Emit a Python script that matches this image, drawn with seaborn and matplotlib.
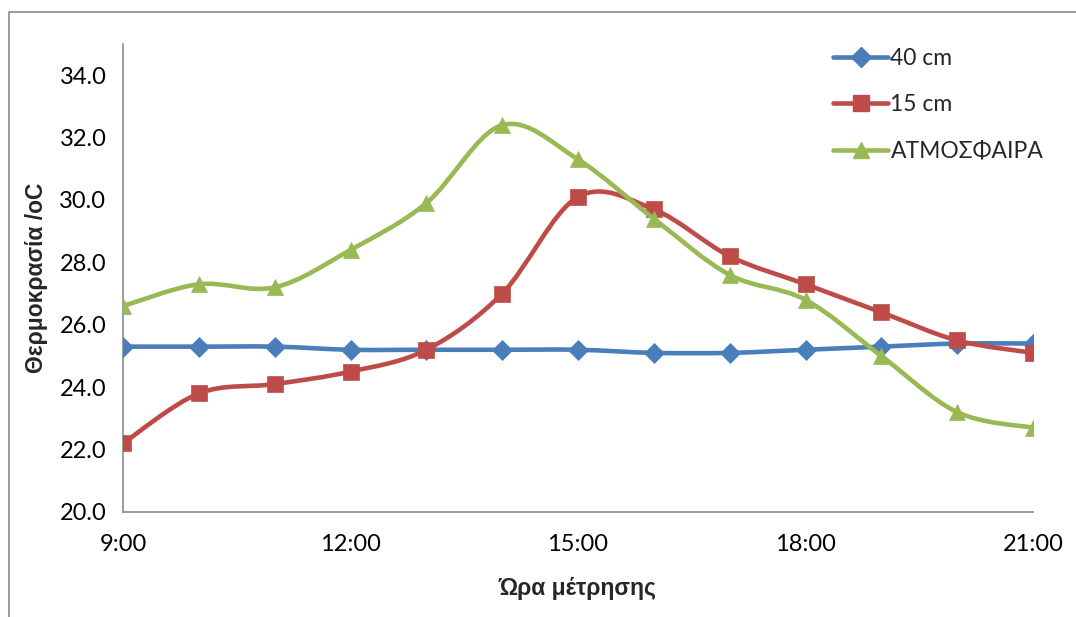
import numpy as np
import pandas as pd
import matplotlib
matplotlib.use("Agg")
import matplotlib.pyplot as plt
import seaborn as sns
from matplotlib.path import Path
from matplotlib.patches import PathPatch, Rectangle
from matplotlib.lines import Line2D

# ---- data ----
hours = [9, 10, 11, 12, 13, 14, 15, 16, 17, 18, 19, 20, 21]
tick_hours = [9, 12, 15, 18, 21]
tick_labels = ["9:00", "12:00", "15:00", "18:00", "21:00"]
s40 = [25.3, 25.3, 25.3, 25.2, 25.2, 25.2, 25.2, 25.1, 25.1, 25.2, 25.3, 25.4, 25.4]
s15 = [22.2, 23.8, 24.1, 24.5, 25.2, 27.0, 30.1, 29.7, 28.2, 27.3, 26.4, 25.5, 25.1]
atm = [26.6, 27.3, 27.2, 28.4, 29.9, 32.4, 31.3, 29.4, 27.6, 26.8, 25.0, 23.2, 22.7]
names = ["40 cm", "15 cm", "ΑΤΜΟΣΦΑΙΡΑ"]
colors = ["#4A7EBB", "#BE4B48", "#98B954"]
markers = ["D", "s", "^"]
msizes = [10, 11, 12]

df = pd.DataFrame({"hour": hours * 3,
                   "temp": s40 + s15 + atm,
                   "series": sum([[n] * len(hours) for n in names], [])})

sns.set_theme(style="white")
plt.rcParams["font.family"] = ["Lato", "DejaVu Sans"]

fig = plt.figure(figsize=(10.76, 6.17), dpi=100)
ax = fig.add_axes([123 / 1076, 1 - 512 / 617, (1033 - 123) / 1076, (512 - 44) / 617])

# outer chart border (left/top visible)
fig.patches.append(Rectangle((9 / 1076, -0.05), 1.2, 1 - 12 / 617 + 0.05,
                             transform=fig.transFigure, fill=False,
                             edgecolor="#8C8C8C", linewidth=1.2))


def smooth_path(x, y):
    x = np.asarray(x, float); y = np.asarray(y, float)
    n = len(x)
    verts = [(x[0], y[0])]
    codes = [Path.MOVETO]
    for i in range(n - 1):
        p0 = np.array([x[max(i - 1, 0)], y[max(i - 1, 0)]])
        p1 = np.array([x[i], y[i]])
        p2 = np.array([x[i + 1], y[i + 1]])
        p3 = np.array([x[min(i + 2, n - 1)], y[min(i + 2, n - 1)]])
        c1 = p1 + (p2 - p0) / 6.0
        c2 = p2 - (p3 - p1) / 6.0
        verts += [tuple(c1), tuple(c2), tuple(p2)]
        codes += [Path.CURVE4] * 3
    return Path(verts, codes)


handles = []
for k, (name, col, mk, ms) in enumerate(zip(names, colors, markers, msizes)):
    sub = df[df.series == name]
    patch = PathPatch(smooth_path(sub.hour, sub.temp), facecolor="none",
                      edgecolor=col, linewidth=3.3, capstyle="round",
                      joinstyle="round", zorder=2 + 2 * k)
    ax.add_patch(patch)
    sns.lineplot(data=sub, x="hour", y="temp", ax=ax, linestyle="",
                 marker=mk, markersize=ms, color=col, markeredgecolor=col,
                 markeredgewidth=0.5, zorder=3 + 2 * k, legend=False)
    handles.append(Line2D([0], [0], color=col, linewidth=3.3, marker=mk,
                          markersize=ms, markeredgecolor=col, label=name))

ax.set_xlim(9, 21)
ax.set_ylim(20, 35)
ax.set_xticks(tick_hours)
ax.set_xticklabels(tick_labels)
ax.set_yticks(np.arange(20, 35, 2))
ax.set_yticklabels([f"{v:.1f}" for v in np.arange(20, 35, 2)])
for side in ["top", "right"]:
    ax.spines[side].set_visible(False)
for side in ["left", "bottom"]:
    ax.spines[side].set_color("#8C8C8C")
    ax.spines[side].set_linewidth(1.2)
ax.tick_params(axis="both", which="major", direction="out", length=7,
               width=1.2, color="#8C8C8C", labelsize=17, labelcolor="black")
ax.tick_params(axis="x", pad=9)
ax.tick_params(axis="y", pad=5)
bold_font = dict(family=["Liberation Sans", "DejaVu Sans"], fontsize=16.5, fontweight="bold")
ax.set_xlabel("Ώρα μέτρησης", labelpad=16, **bold_font)
ax.set_ylabel("Θερμοκρασία /oC", labelpad=8, **bold_font)
ax.grid(False)

fig.legend(handles=handles, loc="upper left", bbox_to_anchor=(824 / 1076, 1 - 39 / 617),
           frameon=False, fontsize=16.5, handlelength=2.4, handletextpad=0.1,
           labelspacing=1.1, borderaxespad=0)

fig.savefig("out.png", dpi=100, facecolor="white")
